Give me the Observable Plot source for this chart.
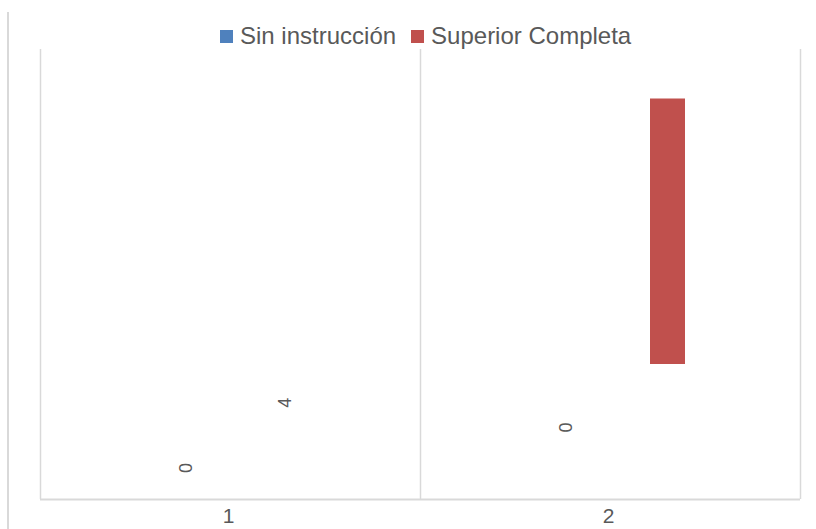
<!DOCTYPE html>
<html><head><meta charset="utf-8">
<script src="https://cdn.jsdelivr.net/npm/d3@7"></script>
<script src="https://cdn.jsdelivr.net/npm/@observablehq/plot@0.6"></script>
<style>
body{margin:0;background:#fff;font-family:"Liberation Sans",Arial,sans-serif;}
#wrap{position:relative;width:816px;height:529px;overflow:hidden;}
#frame{position:absolute;left:7px;top:12px;width:0;height:517px;border-left:2px solid #d9d9d9;}
#legend{position:absolute;top:22px;left:220px;display:flex;align-items:center;font-size:24px;color:#595959;white-space:nowrap;z-index:2;}
#legend .sw{display:inline-block;width:13px;height:13px;margin-right:7px;}
#legend .item{display:flex;align-items:center;margin-right:15px;}
#chart{position:absolute;left:0;top:0;}
</style></head>
<body>
<div id="wrap"><div id="frame"></div><div id="legend"></div><div id="chart"></div></div>
<script>
const categories = ["1", "2"];
const series = ["Sin instrucción", "Superior Completa"];
const seriesColors = ["#4f81bd", "#c0504d"];

// floating bar (Superior Completa, category 2)
const barCategory = ["2"];
const barStart = [3.0];
const barEnd = [8.9];

// data labels as shown
const labelCategory = ["1", "1", "2"];
const labelSeries = ["Sin instrucción", "Superior Completa", "Sin instrucción"];
const labelText = ["0", "4", "0"];
const labelAt = [0.7, 2.15, 1.6];

const bars = barCategory.map((c, i) => ({cat: c, y1: barStart[i], y2: barEnd[i], series: series[1]}));
const labels = labelCategory.map((c, i) => ({cat: c, series: labelSeries[i], text: labelText[i], y: labelAt[i]}));

// legend
const leg = document.getElementById("legend");
series.forEach((s, i) => {
  const it = document.createElement("div"); it.className = "item";
  const sw = document.createElement("span"); sw.className = "sw"; sw.style.background = seriesColors[i];
  const tx = document.createElement("span"); tx.textContent = s;
  it.append(sw, tx); leg.append(it);
});

const W = 816, H = 529, ML = 40, MR = 16, MT = 49, MB = 30;
const bw = (W - ML - MR) / categories.length;
const grid = "#d9d9d9", txt = "#595959";

const chart = Plot.plot({
  width: W, height: H,
  marginLeft: ML, marginRight: MR, marginTop: MT, marginBottom: MB,
  style: {fontFamily: "'Liberation Sans', Arial, sans-serif", background: "transparent"},
  x: {domain: categories, padding: 0, axis: null, label: null},
  y: {domain: [0, 10], axis: null},
  color: {domain: series, range: seriesColors},
  marks: [
    Plot.ruleX(categories, {x: d => d, y1: 0, y2: 10, dx: -bw / 2, stroke: grid, strokeWidth: 1.5}),
    Plot.ruleX([categories[categories.length - 1]], {x: d => d, y1: 0, y2: 10, dx: bw / 2, stroke: grid, strokeWidth: 1.5}),
    Plot.ruleY([0], {stroke: grid, strokeWidth: 2}),
    Plot.barY(bars, {x: "cat", y1: "y1", y2: "y2", fill: "series", insetLeft: 230, insetRight: 115}),
    Plot.text(labels.filter(d => d.series === series[0]), {x: "cat", y: "y", text: "text", rotate: -90, dx: -44, fontSize: 18, fill: txt}),
    Plot.text(labels.filter(d => d.series === series[1]), {x: "cat", y: "y", text: "text", rotate: -90, dx: 55, fontSize: 18, fill: txt}),
    Plot.axisX({tickSize: 0, tickPadding: 9, fontSize: 21, color: txt, label: null, dx: -2})
  ]
});
document.getElementById("chart").append(chart);
</script>
</body></html>
